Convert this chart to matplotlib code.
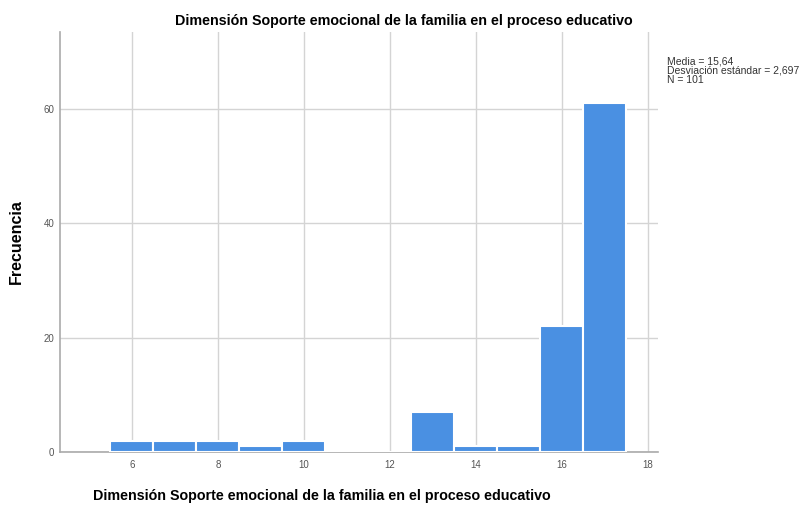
import matplotlib
matplotlib.use('Agg')
import matplotlib.pyplot as plt

# frequency per score value
scores = [6, 7, 8, 9, 10, 11, 12, 13, 14, 15, 16, 17]
counts = [2, 2, 2, 1, 2, 0, 0, 7, 1, 1, 22, 61]
x_ticks = [6, 8, 10, 12, 14, 16, 18]
y_ticks = [0, 20, 40, 60]
stats_text = 'Media = 15,64\nDesviación estándar = 2,697\nN = 101'
title = 'Dimensión Soporte emocional de la familia en el proceso educativo'

plt.rcParams['font.family'] = ['Liberation Sans', 'DejaVu Sans']

fig = plt.figure(figsize=(8.11, 5.05), dpi=100)
ax = fig.add_axes([0.074, 0.105, 0.737, 0.832])

ax.bar(scores, counts, width=1.0, color='#4a90e2', edgecolor='white',
       linewidth=1.5, zorder=3)

ax.set_xlim(4.33, 18.23)
ax.set_ylim(0, 73.5)
ax.set_xticks(x_ticks)
ax.set_yticks(y_ticks)
ax.grid(True, color='#d4d4d4', linewidth=1, zorder=0)
ax.tick_params(colors='#555555', labelsize=7, length=0)
ax.tick_params(axis='x', pad=6)
ax.tick_params(axis='y', pad=4)

for side in ['top', 'right']:
    ax.spines[side].set_visible(False)
for side in ['left', 'bottom']:
    ax.spines[side].set_color('#aaaaaa')
    ax.spines[side].set_linewidth(1.2)

fig.text(0.498, 0.958, title, fontsize=10.3, fontweight='bold',
         ha='center', va='center')
ax.set_xlabel(title, fontsize=10.3, fontweight='bold', va='center')
ax.xaxis.set_label_coords(0.438, -0.105)
ax.set_ylabel('Frecuencia', fontsize=11.5, fontweight='bold')
ax.yaxis.set_label_coords(-0.06, 0.5)

fig.text(0.822, 0.889, stats_text, fontsize=7.5, va='top', ha='left',
         color='#333333', linespacing=0.95)

plt.savefig('out.png', dpi=100)
plt.close()
